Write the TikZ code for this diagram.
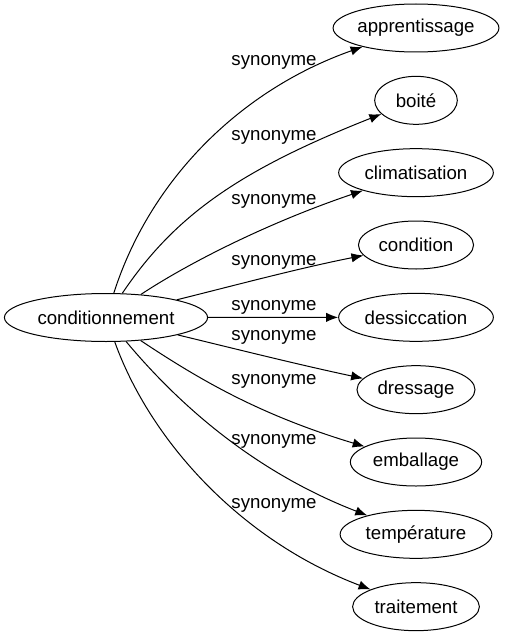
\documentclass[tikz,border=0pt]{standalone}
\usepackage{fontspec}
\setmainfont{Liberation Sans}
\usetikzlibrary{positioning, arrows.meta, shapes.geometric}

\begin{document}
\begin{tikzpicture}[
    x=0.75pt, y=-0.75pt,
    font=\fontsize{14pt}{16pt}\selectfont,
    >={Latex[length=9pt,width=7pt]},
    node distance=17.5pt,
    word/.style={
        draw, ellipse, line width=0.75pt,
        minimum height=36pt, minimum width=54pt, inner xsep=2.5pt, inner ysep=0pt
    },
    lbl/.style={inner sep=0pt},
    edge/.style={->, line width=0.75pt}
]
\useasboundingbox (0,0) rectangle (507,635);

% --------------------------------------------------------------------------
% Source word on the left, its synonyms stacked on the right.
% --------------------------------------------------------------------------
\node[word] (main) at (106,317.5) {conditionnement};

\node[word, inner xsep=0pt] (appr) at (416,28) {apprentissage};
\node[word, below=of appr, minimum width=62pt] (boite) {boité};
\node[word, below=of boite] (clim) {climatisation};
\node[word, below=of clim] (cond) {condition};
\node[word, below=of cond] (dess) {dessiccation};
\node[word, below=of dess] (dress) {dressage};
\node[word, below=of dress] (emb) {emballage};
\node[word, below=of emb] (temp) {température};
\node[word, below=of temp] (trait) {traitement};

% Relation labels.
\node[lbl] (syn1) at (274,62) {synonyme};
\node[lbl] (syn2) at (274,137) {synonyme};
\node[lbl] (syn3) at (274,201) {synonyme};
\node[lbl] (syn4) at (274,262) {synonyme};
\node[lbl] (syn5) at (274,307) {synonyme};
\node[lbl] (syn6) at (274,337) {synonyme};
\node[lbl] (syn7) at (274,381) {synonyme};
\node[lbl] (syn8) at (274,441) {synonyme};
\node[lbl] (syn9) at (274,505) {synonyme};

% Edges fanning out from the source word.
\draw[edge] (main) .. controls (150,180) and (240,90) .. (appr);
\draw[edge] (main) .. controls (175,215) and (240,170) .. (boite);
\draw[edge] (main) .. controls (190,262) and (270,222) .. (clim);
\draw[edge] (main) .. controls (240,284) and (300,268) .. (cond);
\draw[edge] (main) -- (dess);
\draw[edge] (main) .. controls (240,350) and (300,365) .. (dress);
\draw[edge] (main) .. controls (200,380) and (260,415) .. (emb);
\draw[edge] (main) .. controls (175,400) and (250,470) .. (temp);
\draw[edge] (main) .. controls (150,440) and (240,540) .. (trait);

\end{tikzpicture}
\end{document}
